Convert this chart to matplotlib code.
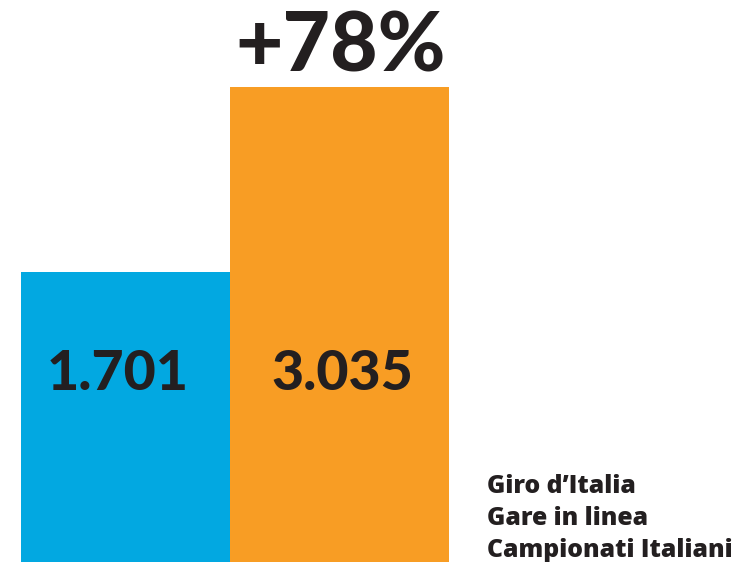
import matplotlib
matplotlib.use("Agg")
import matplotlib.pyplot as plt

categories = ["Prima", "Dopo"]
values = [1701, 3035]
value_labels = ["1.701", "3.035"]
change_label = "+78%"
legend_lines = ["Giro d\u2019Italia", "Gare in linea", "Campionati Italiani"]
colors = ["#02A8E1", "#F89D24"]
text_color = "#231F20"

W, H = 738, 562
fig = plt.figure(figsize=(W / 100, H / 100), dpi=100)
ax = fig.add_axes([21 / W, 0, (449 - 21) / W, 1])
ax.set_yscale("log")
ax.set_ylim(686, 3987)
ax.set_xlim(0, 428)
lefts = [0, 209]
widths = [209, 219]
bars = ax.bar(lefts, values, width=widths, align="edge", color=colors, bottom=1, linewidth=0)
ax.axis("off")

font = dict(family=["Lato", "DejaVu Sans"], fontweight="black", color=text_color)
font2 = dict(family=["Open Sans", "DejaVu Sans"], fontweight="heavy", color=text_color)

label_offsets = [-8, 3]
for b, lab, off in zip(bars, value_labels, label_offsets):
    cx = b.get_x() + b.get_width() / 2 + off
    fig.text((21 + cx) / W, 1 - 374 / H, lab, ha="center", va="center", fontsize=40, **font)

fig.text(341 / W, 1 - 48 / H, change_label, ha="center", va="center", fontsize=59, **font)

for i, line in enumerate(legend_lines):
    fig.text(487 / W, 1 - (493 + 32 * i) / H, line, ha="left", va="baseline", fontsize=17.8, **font2)

fig.savefig("out.png", dpi=100)
